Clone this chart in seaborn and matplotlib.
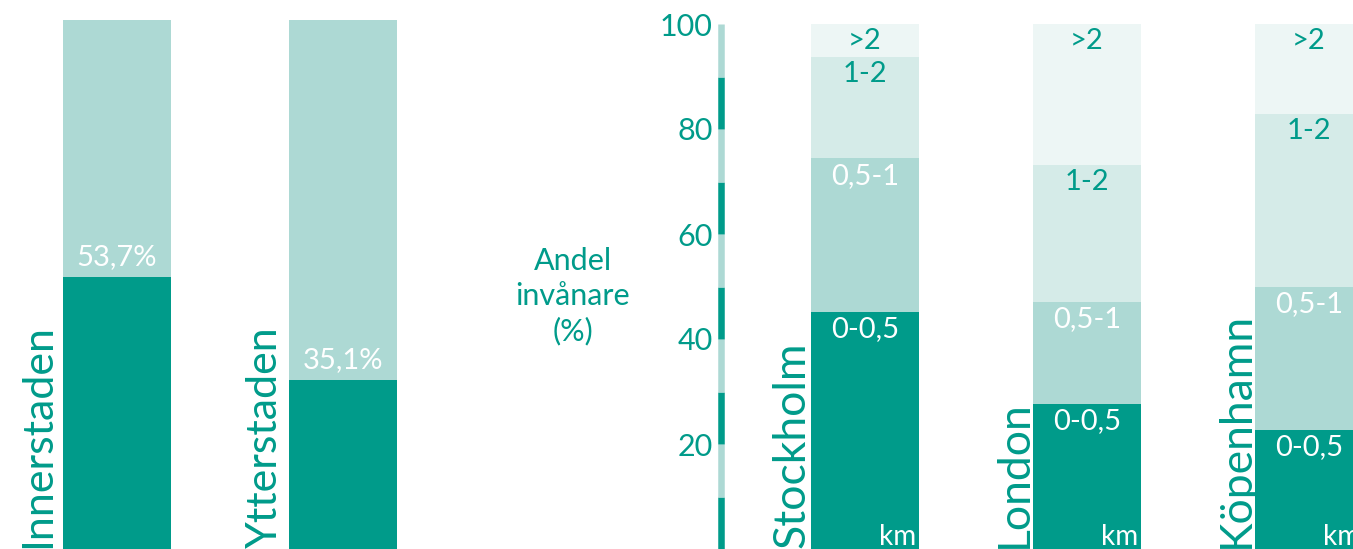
import numpy as np
import pandas as pd
import matplotlib
matplotlib.use("Agg")
import matplotlib.pyplot as plt
import seaborn as sns

# Data
omraden = ["Innerstaden", "Ytterstaden"]
andel_omrade = [53.7, 35.1]

stader = ["Stockholm", "London", "Köpenhamn"]
avstand = ["0-0,5", "0,5-1", "1-2", ">2"]
andel_stockholm = [45.1, 29.3, 19.3, 6.3]
andel_london = [27.6, 19.4, 26.1, 26.9]
andel_kopenhamn = [22.6, 27.4, 32.9, 17.1]

y_ticks = [20, 40, 60, 80, 100]
axel_steg = [0, 10, 20, 30, 40, 50, 60, 70, 80, 90, 100]

# Colors
teal = "#009B8A"
ljus = "#ADD9D4"
ljusare = "#D5EBE8"
ljusast = "#EDF6F5"
band_farg = [teal, ljus, ljusare, ljusast]
text_farg = ["white", "white", teal, teal]

sns.set_style("white")
plt.rcParams["font.family"] = ["Lato", "DejaVu Sans"]

W, H = 1353, 549
fig = plt.figure(figsize=(W / 100, H / 100), dpi=100)


def px_axes(x0, y0, x1, y1):
    return fig.add_axes([x0 / W, 1 - y1 / H, (x1 - x0) / W, (y1 - y0) / H])


# ---- Left: Innerstaden / Ytterstaden ----
ax1 = px_axes(4, 19.7, 456, 549)
w1 = 0.478
ybot1 = 4.7
sns.barplot(x=omraden, y=[100] * len(omraden), color=ljus, width=w1,
            saturation=1, linewidth=0, ax=ax1)
sns.barplot(x=omraden, y=andel_omrade, color=teal, width=w1,
            saturation=1, linewidth=0, ax=ax1)
for i, v in enumerate(andel_omrade):
    ax1.annotate(f"{v:.1f}%".replace(".", ","), xy=(i, v), xytext=(0, 5),
                 textcoords="offset points", ha="center", va="bottom",
                 color="white", fontsize=21)
    ax1.annotate(omraden[i], xy=(i - w1 / 2, ybot1), xytext=(-9, 1),
                 textcoords="offset points", rotation=90, rotation_mode="anchor",
                 ha="left", va="baseline", color=teal, fontsize=31)
ax1.set_ylim(ybot1, 100)
ax1.set_xlim(-0.5, 1.5)
ax1.axis("off")

# ---- Right: stacked by distance ----
df = pd.DataFrame({
    "stad": np.repeat(stader, len(avstand)),
    "avstand": avstand * len(stader),
    "andel": andel_stockholm + andel_london + andel_kopenhamn,
})
df["topp"] = df.groupby("stad", sort=False)["andel"].cumsum()

ax2 = px_axes(721, 24, 1420, 549)
w2 = 0.482
x_left = -0.5 - 33 / 222

for k in reversed(range(len(avstand))):
    sub = df[df["avstand"] == avstand[k]]
    sns.barplot(data=sub, x="stad", y="topp", order=stader, color=band_farg[k],
                width=w2, saturation=1, linewidth=0, ax=ax2)

for _, r in df.iterrows():
    i = stader.index(r["stad"])
    k = avstand.index(r["avstand"])
    ax2.annotate(r["avstand"], xy=(i, r["topp"]), xytext=(0, -3),
                 textcoords="offset points", ha="center", va="top",
                 color=text_farg[k], fontsize=21)

for i, stad in enumerate(stader):
    ax2.annotate("km", xy=(i + w2 / 2, 0), xytext=(-2, -1),
                 textcoords="offset points", ha="right", va="bottom",
                 color="white", fontsize=20)
    ax2.annotate(stad, xy=(i - w2 / 2, 0), xytext=(-5, 1),
                 textcoords="offset points", rotation=90, rotation_mode="anchor",
                 ha="left", va="baseline", color=teal, fontsize=32)

# alternating axis line
for j in range(len(axel_steg) - 1):
    c = teal if j % 2 == 0 else ljus
    ax2.vlines(x_left, axel_steg[j], axel_steg[j + 1], colors=c,
               linewidth=4.7, clip_on=False)

ax2.set_ylim(0, 100)
ax2.set_xlim(x_left, 2.5)
ax2.set_yticks(y_ticks)
ax2.set_yticklabels([str(t) for t in y_ticks])
ax2.tick_params(axis="y", length=0, pad=6, labelcolor=teal, labelsize=22)
ax2.set_xticks([])
ax2.set_xlabel("")
ax2.set_ylabel("")
for s in ax2.spines.values():
    s.set_visible(False)

fig.text(573 / W, 1 - 296 / H, "Andel\ninvånare\n(%)", ha="center", va="center",
         multialignment="center", linespacing=1.3, color=teal, fontsize=22)

fig.savefig("out.png", dpi=100)
